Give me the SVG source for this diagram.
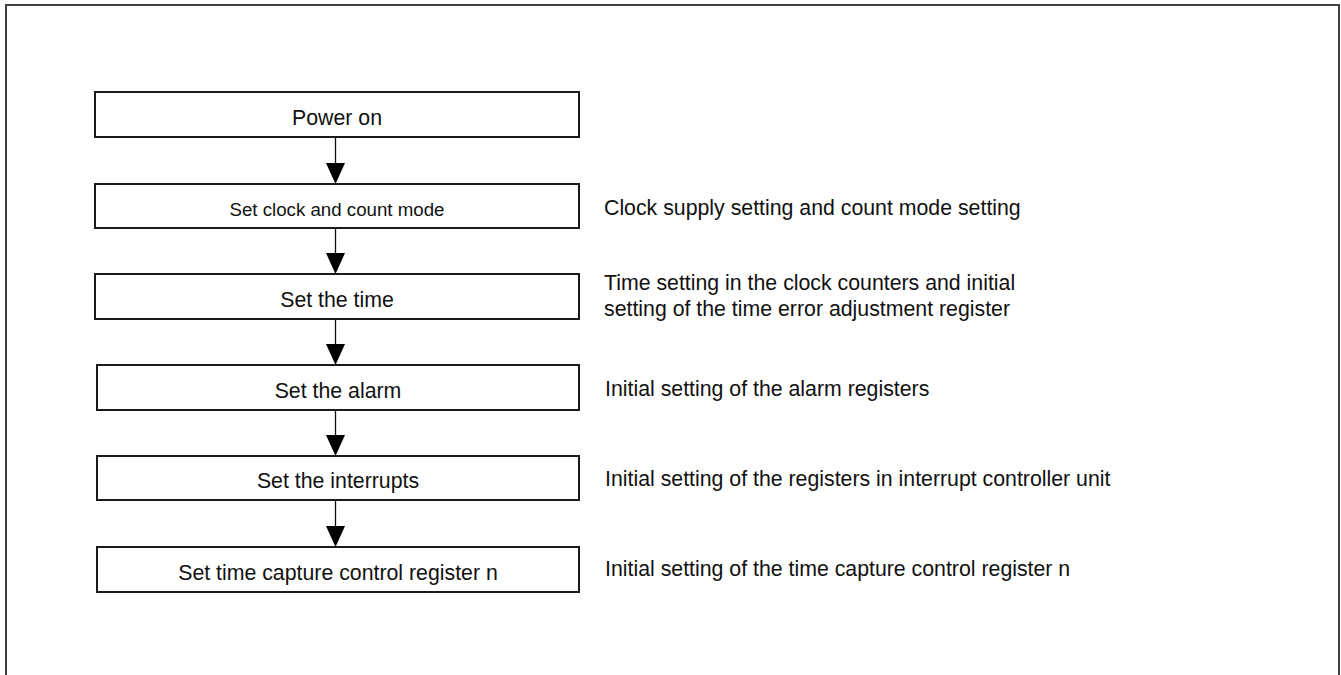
<svg xmlns="http://www.w3.org/2000/svg" width="1341" height="675" viewBox="0 0 1341 675">
<defs>
<style>
.frame{fill:none;stroke:#404040;stroke-width:2}
.box{fill:#fff;stroke:#1a1a1a;stroke-width:2}
.t{font-family:"Liberation Sans",Arial,sans-serif;font-size:21.3px;fill:#111;text-anchor:middle}
.ts{font-size:18.7px}
.n{font-family:"Liberation Sans",Arial,sans-serif;font-size:21.3px;fill:#111}
.c{stroke:#111;stroke-width:1.3;fill:none}
.h{fill:#000}
</style>
</defs>
<rect width="1341" height="675" fill="#fff"/>
<path class="frame" d="M6,680 V5 H1339 V680"/>
<g id="connectors">
<line class="c" x1="335.5" y1="137" x2="335.5" y2="165"/>
<polygon class="h" points="326,163 345,163 335.5,184"/>
<line class="c" x1="335.5" y1="228" x2="335.5" y2="255"/>
<polygon class="h" points="326,253 345,253 335.5,274"/>
<line class="c" x1="335.5" y1="319" x2="335.5" y2="346"/>
<polygon class="h" points="326,344 345,344 335.5,365"/>
<line class="c" x1="335.5" y1="410" x2="335.5" y2="437"/>
<polygon class="h" points="326,435 345,435 335.5,456"/>
<line class="c" x1="335.5" y1="500" x2="335.5" y2="528"/>
<polygon class="h" points="326,526 345,526 335.5,547"/>
</g>
<g id="n1">
<rect class="box" x="95" y="92" width="484" height="45"/>
<text class="t" x="337" y="124.5">Power on</text>
</g>
<g id="n2">
<rect class="box" x="95" y="184" width="484" height="44"/>
<text class="t ts" x="337" y="215.5">Set clock and count mode</text>
</g>
<g id="n3">
<rect class="box" x="95" y="274" width="484" height="45"/>
<text class="t" x="337" y="306.5">Set the time</text>
</g>
<g id="n4">
<rect class="box" x="97" y="365" width="482" height="45"/>
<text class="t" x="338" y="397.5">Set the alarm</text>
</g>
<g id="n5">
<rect class="box" x="97" y="456" width="482" height="44"/>
<text class="t" x="338" y="488">Set the interrupts</text>
</g>
<g id="n6">
<rect class="box" x="97" y="547" width="482" height="45"/>
<text class="t" x="338" y="580">Set time capture control register n</text>
</g>
<g id="notes">
<text class="n" x="604" y="215">Clock supply setting and count mode setting</text>
<text class="n" x="604" y="290">Time setting in the clock counters and initial</text>
<text class="n" x="604" y="316">setting of the time error adjustment register</text>
<text class="n" x="605" y="396">Initial setting of the alarm registers</text>
<text class="n" x="605" y="486">Initial setting of the registers in interrupt controller unit</text>
<text class="n" x="605" y="576">Initial setting of the time capture control register n</text>
</g>
</svg>
